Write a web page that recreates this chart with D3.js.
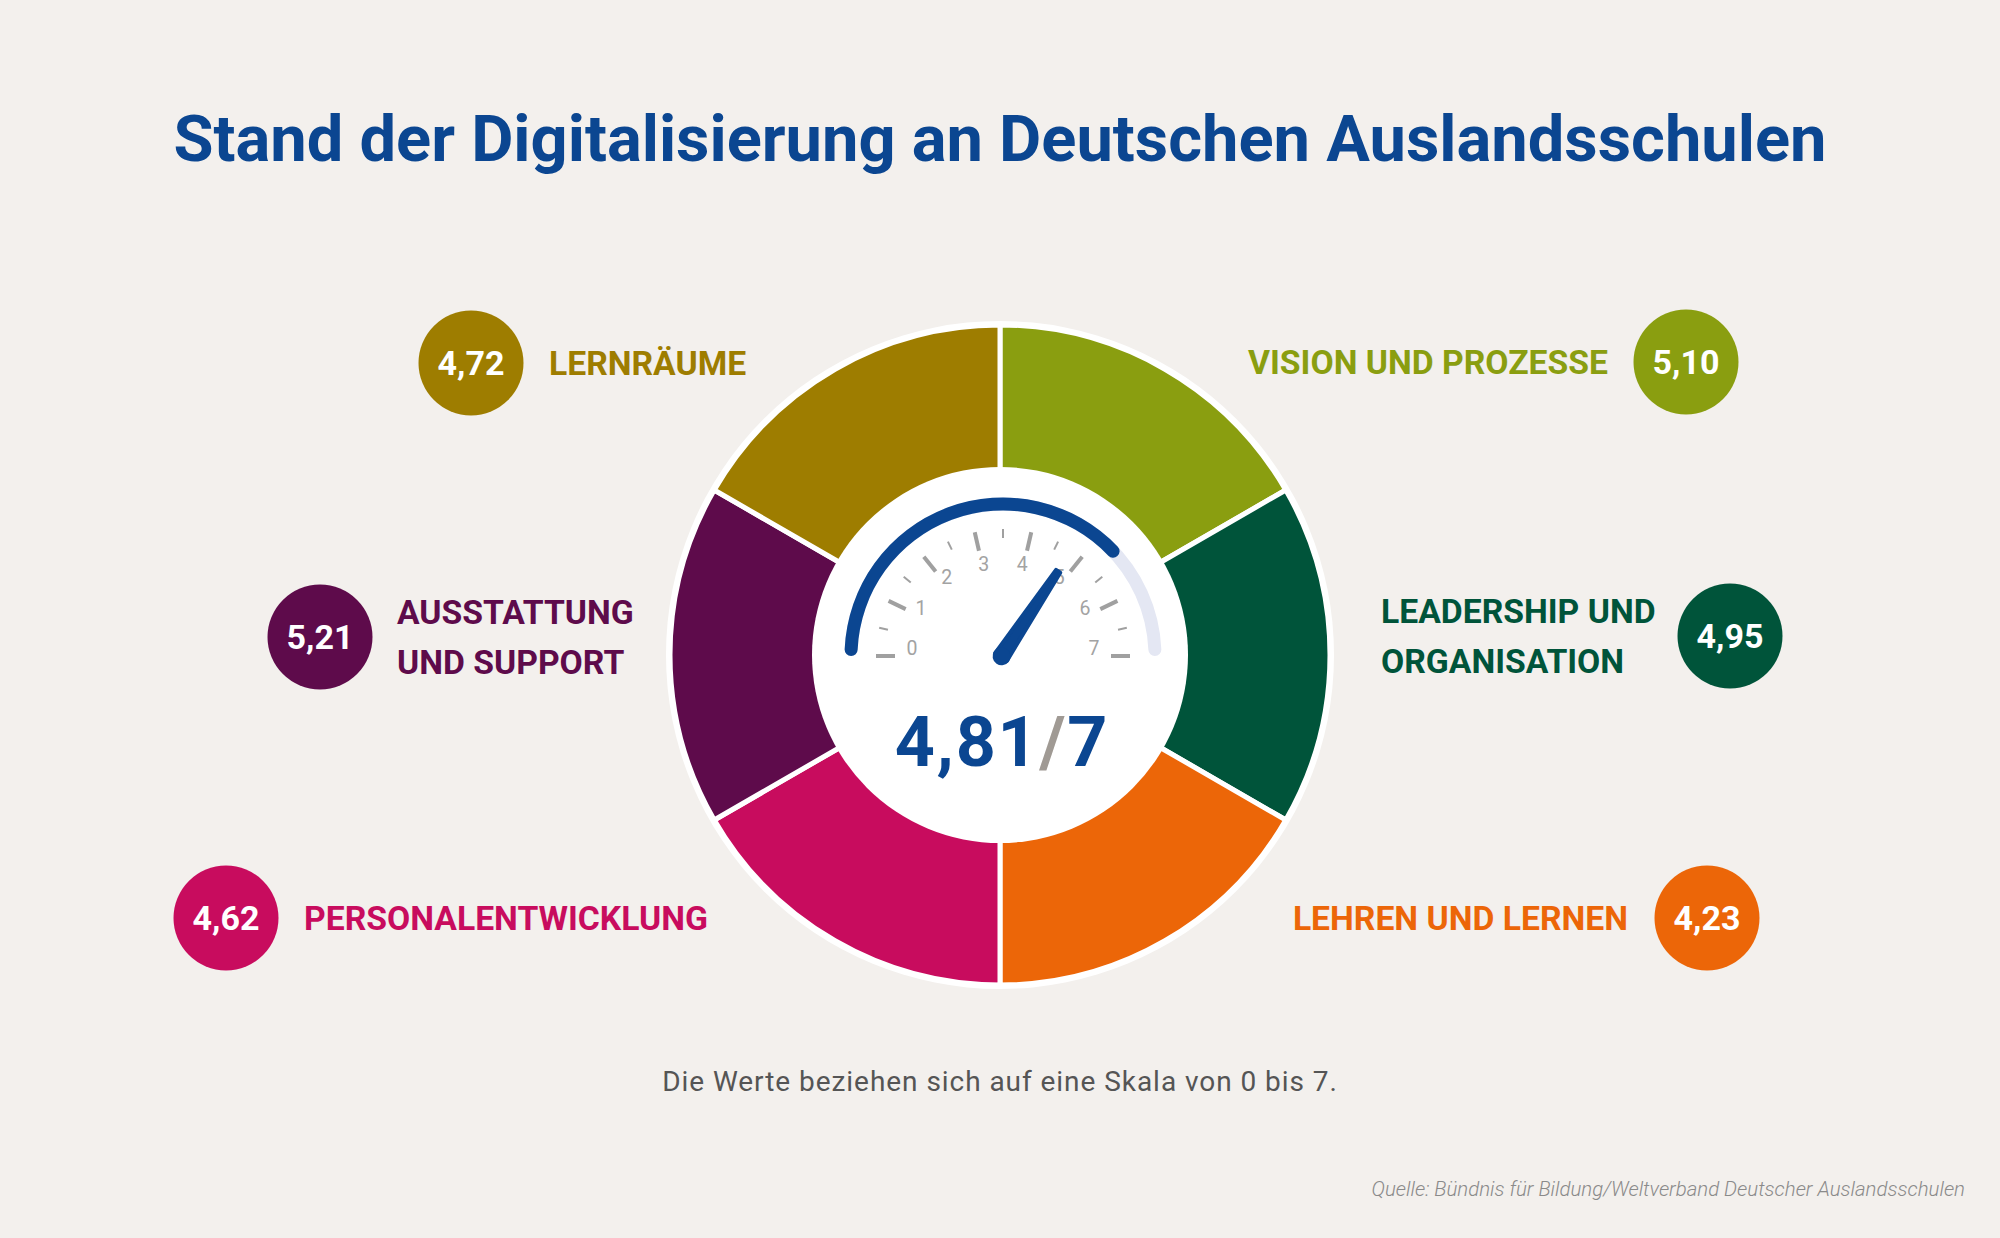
<!DOCTYPE html>
<html>
<head>
<meta charset="utf-8">
<script src="https://cdn.jsdelivr.net/npm/d3@7"></script>
<style>
  html, body { margin: 0; padding: 0; background: #f3f0ed; }
  svg { display: block; font-family: Roboto, "Noto Sans", sans-serif; }
</style>
</head>
<body>
<svg id="chart" width="2000" height="1238"></svg>
<script>
// ---------- DATA ----------
const title = "Stand der Digitalisierung an Deutschen Auslandsschulen";
const subtitle = "Die Werte beziehen sich auf eine Skala von 0 bis 7.";
const source = "Quelle: Bündnis für Bildung/Weltverband Deutscher Auslandsschulen";

// clockwise from 12 o'clock
const categories = ["VISION UND PROZESSE", "LEADERSHIP UND|ORGANISATION", "LEHREN UND LERNEN",
                    "PERSONALENTWICKLUNG", "AUSSTATTUNG|UND SUPPORT", "LERNRÄUME"];
const values = [5.10, 4.95, 4.23, 4.62, 5.21, 4.72];
const colors = ["#8a9e10", "#00543a", "#ec6608", "#c80c5e", "#5e0b4b", "#9e7d00"];

const overall = 4.81;
const scaleMax = 7;
const gaugeTicks = [0, 1, 2, 3, 4, 5, 6, 7];
const gaugeMinorTicks = [0.5, 1.5, 2.5, 3.5, 4.5, 5.5, 6.5];
const gaugeArcFill = 5.4;   // extent of the blue decorative arc (scale units)

// ---------- LAYOUT ----------
const W = 2000, H = 1238;
const cx = 1000, cy = 655;
const outerR = 330, innerR = 188;
// label/bubble anchors per category (bubble centre, text side)
const labelLayout = [
  { bx: 1686, by: 362, side: "left",  tx: 1608 },
  { bx: 1730, by: 636, side: "leftBlock", tx: 1381 },
  { bx: 1707, by: 918, side: "left",  tx: 1628 },
  { bx: 226,  by: 918, side: "right", tx: 304 },
  { bx: 320,  by: 637, side: "right", tx: 397 },
  { bx: 471,  by: 363, side: "right", tx: 549 }
];

const blue = "#0b4691";
const fmt = d3.formatLocale({ decimal: ",", thousands: ".", grouping: [3], currency: ["", "€"] }).format(".2f");

const svg = d3.select("#chart");
svg.append("rect").attr("width", W).attr("height", H).attr("fill", "#f3f0ed");

// Title
svg.append("text")
  .attr("x", W / 2).attr("y", 161)
  .attr("text-anchor", "middle")
  .attr("font-size", 65).attr("font-weight", 700)
  .attr("fill", blue)
  .text(title);

// ---------- DONUT ----------
const g = svg.append("g").attr("transform", `translate(${cx},${cy})`);
g.append("circle").attr("r", outerR + 4).attr("fill", "#fff");

const pie = d3.pie().value(() => 1).sort(null);
const arc = d3.arc().innerRadius(innerR - 10).outerRadius(outerR);
const slices = pie(categories.map((c, i) => ({ name: c, value: values[i], color: colors[i] })));

g.selectAll("path.slice").data(slices).join("path")
  .attr("class", "slice")
  .attr("d", arc)
  .attr("fill", d => d.data.color)
  .attr("stroke", "#fff").attr("stroke-width", 5).attr("stroke-linejoin", "miter");

g.append("circle").attr("r", innerR).attr("fill", "#fff");

// ---------- GAUGE ----------
const ang = d3.scaleLinear().domain([0, scaleMax]).range([-Math.PI / 2, Math.PI / 2]);
const gg = svg.append("g").attr("transform", `translate(${cx + 3},${cy + 1})`);

const gaugeArc = d3.arc().innerRadius(145.5).outerRadius(158.5).cornerRadius(6.5);
gg.append("path")
  .attr("d", gaugeArc({ startAngle: ang(0), endAngle: ang(scaleMax) }))
  .attr("fill", "#e4e7f3");
gg.append("path")
  .attr("d", gaugeArc({ startAngle: ang(0), endAngle: ang(gaugeArcFill) }))
  .attr("fill", blue);

const pt = (v, r) => [Math.sin(ang(v)) * r, -Math.cos(ang(v)) * r];
const labelR = v => 91 - 6 * Math.pow(Math.cos(ang(v)), 8);

gg.selectAll("line.major").data(gaugeTicks).join("line")
  .attr("class", "major")
  .attr("x1", d => pt(d, 108)[0]).attr("y1", d => pt(d, 108)[1])
  .attr("x2", d => pt(d, 127)[0]).attr("y2", d => pt(d, 127)[1])
  .attr("stroke", "#a0a0a0").attr("stroke-width", 4);

gg.selectAll("line.minor").data(gaugeMinorTicks).join("line")
  .attr("class", "minor")
  .attr("x1", d => pt(d, 118)[0]).attr("y1", d => pt(d, 118)[1])
  .attr("x2", d => pt(d, 127)[0]).attr("y2", d => pt(d, 127)[1])
  .attr("stroke", "#a0a0a0").attr("stroke-width", 2);

gg.selectAll("text.tl").data(gaugeTicks).join("text")
  .attr("class", "tl")
  .attr("x", d => pt(d, labelR(d))[0]).attr("y", d => pt(d, labelR(d))[1] - 8)
  .attr("text-anchor", "middle").attr("dominant-baseline", "central")
  .attr("font-size", 19.5).attr("fill", "#a3a3a3")
  .text(d => d);

// needle
const needle = svg.append("g").attr("transform", `translate(${cx + 1},${cy + 2}) rotate(${ang(overall) * 180 / Math.PI})`);
needle.append("path")
  .attr("d", "M-7,0 L-2.5,-103 L2.5,-103 L7,0 Z")
  .attr("fill", blue).attr("stroke", blue).attr("stroke-width", 4).attr("stroke-linejoin", "round");
needle.append("circle").attr("r", 9).attr("cy", -1).attr("fill", blue);

// central value
const vt = svg.append("text")
  .attr("x", cx + 2).attr("y", 766)
  .attr("text-anchor", "middle")
  .attr("font-size", 70).attr("font-weight", 700)
  .attr("letter-spacing", 1.8);
vt.append("tspan").attr("fill", blue).text(fmt(overall));
vt.append("tspan").attr("fill", "#a09a94").text("/");
vt.append("tspan").attr("fill", blue).text(scaleMax);

// ---------- LABELS & BUBBLES ----------
const lab = svg.selectAll("g.lab").data(slices).join("g").attr("class", "lab");
lab.append("circle")
  .attr("cx", (d, i) => labelLayout[i].bx).attr("cy", (d, i) => labelLayout[i].by)
  .attr("r", 52.5).attr("fill", d => d.data.color);
lab.append("text")
  .attr("x", (d, i) => labelLayout[i].bx).attr("y", (d, i) => labelLayout[i].by + 12)
  .attr("text-anchor", "middle")
  .attr("font-size", 34).attr("font-weight", 700).attr("fill", "#fff")
  .text(d => fmt(d.data.value));

lab.each(function (d, i) {
  const L = labelLayout[i];
  const lines = d.data.name.split("|");
  const t = d3.select(this).append("text")
    .attr("font-size", 33.7).attr("font-weight", 700)
    .attr("fill", d.data.color)
    .attr("text-anchor", L.side === "left" ? "end" : "start");
  const lh = 50;
  const y0 = L.by + 12 - (lines.length - 1) * lh / 2;
  lines.forEach((ln, k) => {
    t.append("tspan").attr("x", L.tx).attr("y", y0 + k * lh).text(ln);
  });
});

// subtitle & source
svg.append("text")
  .attr("x", W / 2).attr("y", 1091)
  .attr("text-anchor", "middle")
  .attr("font-size", 28).attr("letter-spacing", 0.95).attr("fill", "#555")
  .text(subtitle);

svg.append("text")
  .attr("x", 1965).attr("y", 1196)
  .attr("text-anchor", "end")
  .attr("font-size", 20.4).attr("font-weight", 300).attr("font-style", "italic")
  .attr("fill", "#8a8a8a")
  .text(source);
</script>
</body>
</html>
